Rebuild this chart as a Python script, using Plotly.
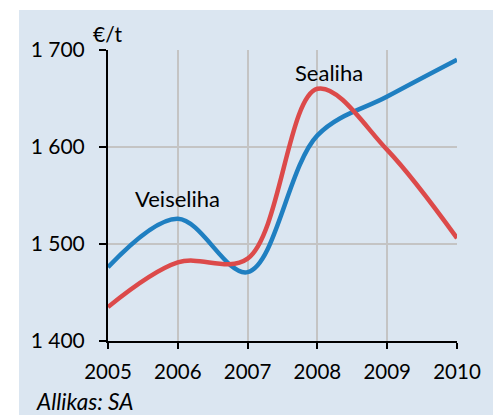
import plotly.graph_objects as go

years = [2005, 2006, 2007, 2008, 2009, 2010]
veiseliha = [1476, 1526, 1471, 1612, 1652, 1690]
sealiha = [1435, 1481, 1485, 1660, 1597, 1506]
ytick_vals = [1400, 1500, 1600, 1700]
ytick_text = ["1 400", "1 500", "1 600", "1 700"]
xtick_vals = years
xtick_text = [str(y) for y in years]

FONT = "Lato"
W, H = 493, 415
L, R, T, B = 108, 32, 50, 74
pw, ph = W - L - R, H - T - B


def px_x(x):
    return (x - L) / pw


def px_y(y):
    return (T + ph - y) / ph


fig = go.Figure()
fig.add_trace(go.Scatter(x=years, y=veiseliha, mode="lines", name="Veiseliha",
                         line=dict(color="#1f7fc1", width=4.5, shape="spline", smoothing=1.0)))
fig.add_trace(go.Scatter(x=years, y=sealiha, mode="lines", name="Sealiha",
                         line=dict(color="#dc4a4a", width=4.5, shape="spline", smoothing=1.0)))

fig.add_shape(type="rect", xref="paper", yref="paper",
              x0=px_x(18), x1=px_x(500), y0=px_y(420), y1=px_y(10),
              fillcolor="#dbe6f1", line=dict(width=0), layer="below")

fig.add_annotation(x=2006, y=1547, text="Veiseliha", showarrow=False,
                   font=dict(family=FONT, size=22, color="black"))
fig.add_annotation(x=2008.17, y=1677, text="Sealiha", showarrow=False,
                   font=dict(family=FONT, size=22, color="black"))
fig.add_annotation(xref="paper", yref="paper", x=px_x(91), y=px_y(33),
                   text="€/t", showarrow=False, xanchor="left", yanchor="middle",
                   font=dict(family=FONT, size=21, color="black"))
fig.add_annotation(xref="paper", yref="paper", x=px_x(33), y=px_y(401),
                   text="<i>Allikas: SA</i>", showarrow=False, xanchor="left", yanchor="middle",
                   font=dict(family=FONT, size=22.5, color="black"))

fig.update_layout(
    width=W, height=H, margin=dict(l=L, r=R, t=T, b=B),
    paper_bgcolor="white", plot_bgcolor="white", showlegend=False,
    font=dict(family=FONT, size=20, color="black"),
)
fig.update_xaxes(range=[2005, 2010], tickvals=xtick_vals, ticktext=xtick_text,
                 showgrid=True, gridcolor="#c4c4c4", gridwidth=1.5,
                 showline=True, linecolor="black", linewidth=2,
                 ticks="outside", ticklen=6, tickwidth=2, tickcolor="black",
                 zeroline=False, ticklabelstandoff=5, tickfont=dict(size=20.5))
fig.update_yaxes(range=[1400, 1700], tickvals=ytick_vals, ticktext=ytick_text,
                 showgrid=True, gridcolor="#c4c4c4", gridwidth=1.5,
                 showline=True, linecolor="black", linewidth=2,
                 ticks="outside", ticklen=7, tickwidth=2, tickcolor="black",
                 zeroline=False, ticklabelstandoff=10, tickfont=dict(size=21))
fig.write_html("out.html", config={"displayModeBar": False},
               post_script="document.body.style.margin='0';document.body.style.overflow='hidden';")
